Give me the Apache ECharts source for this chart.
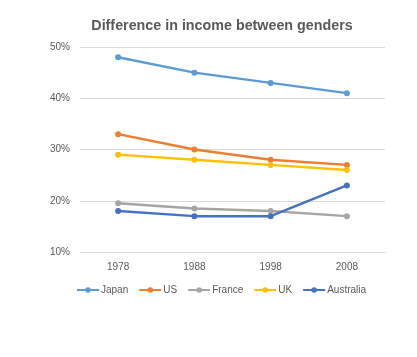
<!DOCTYPE html>
<html><head><meta charset="utf-8">
<script src="https://cdn.jsdelivr.net/npm/echarts@6/dist/echarts.min.js"></script>
<style>html,body{margin:0;padding:0;background:#fff}#c{width:417px;height:357px}</style>
</head><body><div id="c"></div>
<script>
const categories = ['1978','1988','1998','2008'];
const japan = [48, 45, 43, 41];
const us = [33, 30, 28, 27];
const france = [19.5, 18.5, 18, 17];
const uk = [29, 28, 27, 26];
const australia = [18, 17, 17, 23];
const seriesNames = ['Japan','US','France','UK','Australia'];
const seriesData = [japan, us, france, uk, australia];
const colors = ['#5B9BD5','#ED7D31','#A5A5A5','#FFC000','#4472C4'];

const chart = echarts.init(document.getElementById('c'));
chart.setOption({
  animation: false,
  color: colors,
  title: {
    text: 'Difference in income between genders',
    left: 217, top: 14, textAlign: 'center',
    textStyle: {fontFamily: 'Liberation Sans', fontSize: 14.3, fontWeight: 'bold', color: '#595959'}
  },
  legend: {
    bottom: 57, left: 71,
    itemWidth: 22, itemHeight: 7, itemGap: 10,
    textStyle: {fontFamily: 'Liberation Sans', fontSize: 10, color: '#595959', padding: [0, 0, 0, -3]},
    data: seriesNames
  },
  grid: {left: 80, right: 32, top: 47, bottom: 105},
  xAxis: {
    type: 'category', data: categories, boundaryGap: true,
    axisLine: {show: true, lineStyle: {color: '#D9D9D9'}},
    axisTick: {show: false},
    axisLabel: {fontFamily: 'Liberation Sans', fontSize: 10, color: '#595959', margin: 10}
  },
  yAxis: {
    type: 'value', min: 10, max: 50, interval: 10,
    axisLine: {show: false}, axisTick: {show: false},
    splitLine: {lineStyle: {color: '#D9D9D9'}},
    axisLabel: {formatter: '{value}%', fontFamily: 'Liberation Sans', fontSize: 10, color: '#595959', margin: 10}
  },
  series: seriesNames.map((n, i) => ({
    name: n, type: 'line', data: seriesData[i],
    symbol: 'circle', symbolSize: 6,
    lineStyle: {width: 2.5}
  }))
});
</script></body></html>
